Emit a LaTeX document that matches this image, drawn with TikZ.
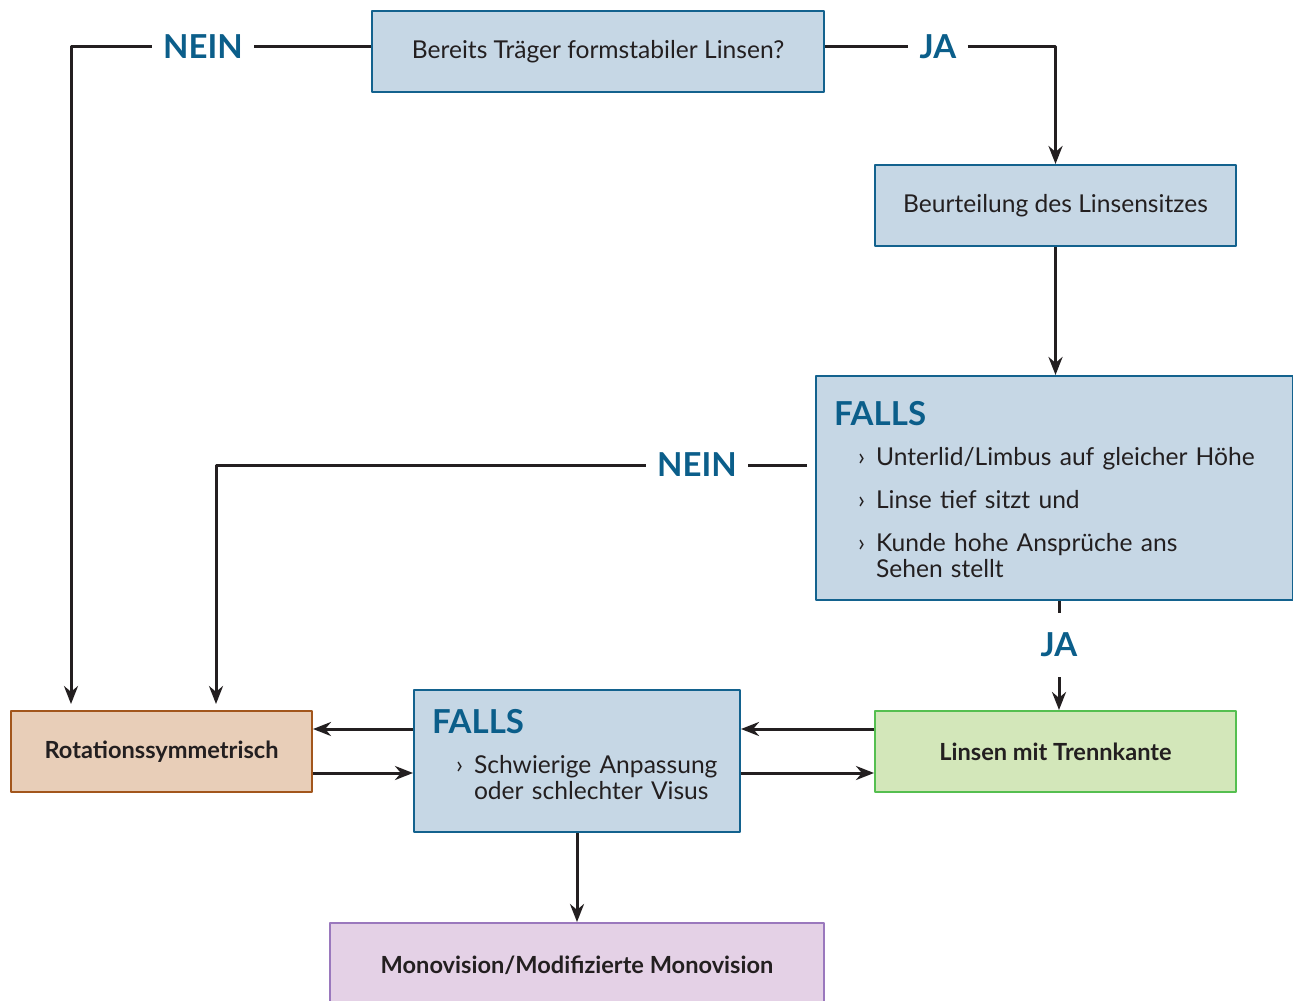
\documentclass[tikz,border=0pt]{standalone}
\usepackage{fontspec}
\setmainfont{Lato}
\usetikzlibrary{arrows.meta,positioning}
\definecolor{titelblau}{HTML}{0B5E8A}
\definecolor{randblau}{HTML}{13628E}
\definecolor{fuellblau}{HTML}{C6D7E5}
\definecolor{randbraun}{HTML}{A2561C}
\definecolor{fuellbraun}{HTML}{E8CEB8}
\definecolor{randgruen}{HTML}{55BF50}
\definecolor{fuellgruen}{HTML}{D3E7BA}
\definecolor{randlila}{HTML}{9A78BD}
\definecolor{fuelllila}{HTML}{E4D1E6}
\definecolor{tinte}{HTML}{231F20}
\newcommand\falls{{\color{titelblau}\fontsize{16.5}{18}\selectfont\bfseries FALLS}}
\newcommand\bul{\makebox[9pt][l]{›}}
\begin{document}
\begin{tikzpicture}[x=0.5pt, y=-0.5pt, line join=round, >={Stealth[length=9pt,width=7pt]},
	font=\fontsize{12.3}{13}\selectfont, text=tinte,
	kasten/.style={draw=randblau, fill=fuellblau, line width=1pt, inner sep=0pt, minimum height=40.5pt},
	fallkasten/.style={kasten, align=left, inner xsep=9pt},
	fettkasten/.style={kasten, font=\fontsize{11.8}{13}\selectfont\bfseries},
	antwort/.style={fill=white, text=titelblau, font=\fontsize{16.5}{18}\selectfont\bfseries, inner xsep=5.5pt, inner ysep=5pt},
	verbinder/.style={draw=tinte, line width=1.5pt}]
	\useasboundingbox (0,0) rectangle (1293,1000);
	% Kästen
	\node[kasten, minimum width=226pt] (Q) at (598,52) {Bereits Träger formstabiler Linsen?};
	\node[kasten, minimum width=180.5pt] (B) at (1055.5,205.5) {Beurteilung des Linsensitzes};
	\node[fallkasten, text width=220.5pt, minimum height=112pt] (F1) at (1054.5,488) {%
		\raisebox{-2.5pt}[\height][\depth]{%
		\begin{tabular}{@{\hspace{12pt}}l@{}l@{}}
			\multicolumn{2}{@{}l}{\falls}\\[7pt]
			\bul&Unterlid/Limbus auf gleicher Höhe\\[8.5pt]
			\bul&Linse tief sitzt und\\[8.5pt]
			\bul&Kunde hohe Ansprüche ans\\
			&Sehen stellt
		\end{tabular}}};
	\node[fettkasten, draw=randbraun, fill=fuellbraun, minimum width=150.5pt] (R) at (161.5,751.5) {Rotationssymmetrisch};
	\node[fallkasten, text width=145pt, minimum height=71pt] (F2) at (577,761) {%
		\raisebox{1.5pt}[\height][\depth]{%
		\begin{tabular}{@{\hspace{12pt}}l@{}l@{}}
			\multicolumn{2}{@{}l}{\falls}\\[7pt]
			\bul&Schwierige Anpassung\\
			&oder schlechter Visus
		\end{tabular}}};
	\node[fettkasten, draw=randgruen, fill=fuellgruen, minimum width=180.5pt] (L) at (1055.5,751.5) {Linsen mit Trennkante};
	\node[fettkasten, draw=randlila, fill=fuelllila, minimum width=247pt, minimum height=42pt] (M) at (577,965) {Monovision/Modifizierte Monovision};
	% Antworten
	\node[antwort] (n1) at (203,47) {NEIN};
	\node[antwort] (j1) at (938,47) {JA};
	\node[antwort] (n2) at (697,465) {NEIN};
	\node[antwort, inner ysep=10pt] (j2) at (1059,645) {JA};
	\coordinate (r1) at (71,704);
	\coordinate (r2) at (216,704);
	\coordinate (f1) at (807,465);
	\coordinate (oben) at (0,729);
	\coordinate (unten) at (0,773);
	% Verbinder
	\draw[verbinder] (Q.west |- n1) -- (n1.east);
	\draw[verbinder, ->] (n1.west) -| (r1);
	\draw[verbinder] (Q.east |- j1) -- (j1.west);
	\draw[verbinder, ->] (j1.east) -| (B.north);
	\draw[verbinder, ->] (B.south) -- (B.south |- F1.north);
	\draw[verbinder] (f1) -- (n2.east);
	\draw[verbinder, ->] (n2.west) -| (r2);
	\draw[verbinder] (F1.south -| j2) -- (j2.north);
	\draw[verbinder, ->] (j2.south) -- (j2 |- L.north);
	\draw[verbinder, ->] (F2.west |- oben) -- (R.east |- oben);
	\draw[verbinder, ->] (R.east |- unten) -- (F2.west |- unten);
	\draw[verbinder, ->] (L.west |- oben) -- (F2.east |- oben);
	\draw[verbinder, ->] (F2.east |- unten) -- (L.west |- unten);
	\draw[verbinder, ->] (F2.south) -- (F2.south |- M.north);
\end{tikzpicture}
\end{document}
